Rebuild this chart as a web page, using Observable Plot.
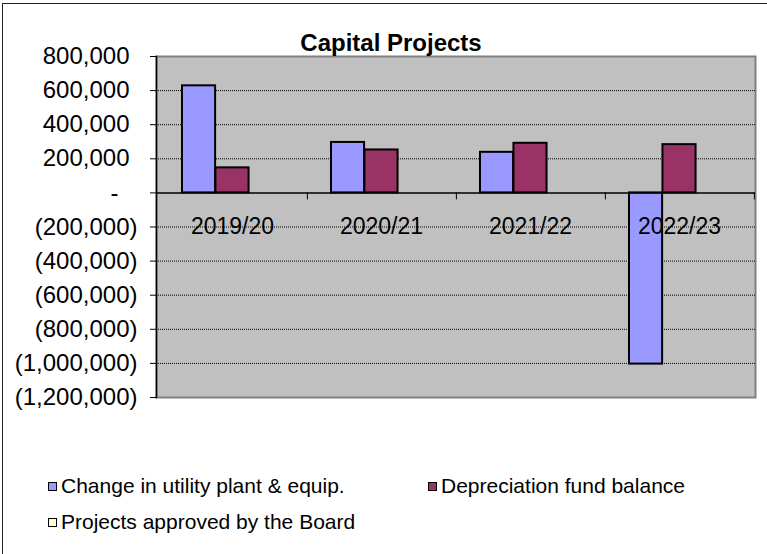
<!DOCTYPE html>
<html><head><meta charset="utf-8">
<script src="https://cdn.jsdelivr.net/npm/d3@7"></script>
<script src="https://cdn.jsdelivr.net/npm/@observablehq/plot@0.6"></script>
<style>
body{margin:0;background:#fff;font-family:"Liberation Sans",Arial,sans-serif;}
#wrap{position:relative;width:767px;height:554px;overflow:hidden;}
#border{position:absolute;left:2px;top:3px;width:800px;height:600px;border-left:1.5px solid #222;border-top:1.5px solid #222;pointer-events:none;}
#title{position:absolute;left:0;width:782px;top:29px;text-align:center;font-weight:bold;font-size:24px;line-height:28px;color:#000;}
.leg{position:absolute;font-size:21px;line-height:24px;display:flex;align-items:center;white-space:nowrap;color:#000;}
.sw{display:inline-block;width:7px;height:7px;border:1.5px solid #000;margin-right:4px;flex:none;}
#chart{position:absolute;left:0;top:0;}
</style></head><body>
<div id="wrap"><div id="chart"></div><div id="border"></div><div id="title"></div><div id="legend"></div></div>
<script>
const titleText = "Capital Projects";
const categories = ["2019/20", "2020/21", "2021/22", "2022/23"];
const seriesNames = ["Change in utility plant & equip.", "Depreciation fund balance", "Projects approved by the Board"];
const seriesColors = ["#9999FF", "#993366", "#FFFFCC"];
const changeInPlant = [628000, 296000, 238000, -1004000];
const depreciationFund = [147000, 252000, 291000, 283000];
const projectsApproved = [null, null, null, null];
const yTicks = [800000, 600000, 400000, 200000, 0, -200000, -400000, -600000, -800000, -1000000, -1200000];

const seriesValues = [changeInPlant, depreciationFund, projectsApproved];
const rows = [];
seriesNames.forEach((s, si) => categories.forEach((c, ci) => rows.push({series: s, cat: c, value: seriesValues[si][ci]})));

const W = 767, H = 554, mL = 156, mR = 12, mT = 56, mB = 157;
const pIn = 0.33, pOut = 0.165;
const step = (W - mL - mR) / (categories.length - pIn + 2 * pOut);
const bw = step * (1 - pIn);
const n = seriesNames.length;
const sw = bw / n;
const num = d3.format(",");
const fmt = v => v === 0 ? "-" : v < 0 ? "(" + num(-v) + ")" : num(v);
const axisFont = 24;

const barMarks = seriesNames.map((s, i) => Plot.barY(
  rows.filter(d => d.series === s && d.value != null),
  {x: "cat", y: "value", fill: seriesColors[i], stroke: "#000", strokeWidth: 2,
   insetLeft: i * sw, insetRight: (n - 1 - i) * sw}
));

const axisOpts = {tickSize: 6, tickFormat: fmt, fontSize: axisFont, fill: "#000", stroke: "#000", label: null};

const chart = Plot.plot({
  width: W, height: H,
  marginLeft: mL, marginRight: mR, marginTop: mT, marginBottom: mB,
  style: {fontFamily: "'Liberation Sans', Arial, sans-serif", background: "transparent", color: "#000"},
  x: {type: "band", domain: categories, paddingInner: pIn, paddingOuter: pOut, axis: null},
  y: {domain: [-1200000, 800000], axis: null, label: null},
  marks: [
    Plot.frame({fill: "#C0C0C0", stroke: "#808080", strokeWidth: 2}),
    Plot.ruleY(yTicks.filter(v => v !== 0 && v !== yTicks[0] && v !== yTicks[yTicks.length - 1]),
      {stroke: "#000", strokeWidth: 1, strokeDasharray: "1,1"}),
    ...barMarks,
    Plot.ruleY([0], {stroke: "#000", strokeWidth: 1.5}),
    Plot.ruleX(categories, {x: d => d, y1: () => 0, y2: () => 0, insetBottom: -7, dx: step / 2, stroke: "#000", strokeWidth: 1}),
    Plot.frame({anchor: "left", stroke: "#000", strokeWidth: 1.5}),
    Plot.axisY(yTicks.filter(v => v < 0), {...axisOpts, tickPadding: 13}),
    Plot.axisY(yTicks.filter(v => v > 0), {...axisOpts, tickPadding: 21}),
    Plot.axisY(yTicks.filter(v => v === 0), {...axisOpts, tickPadding: 32}),
    Plot.text(categories, {x: d => d, y: () => 0, dy: 34, text: d => d, fontSize: 23, fill: "#000", lineAnchor: "middle"})
  ]
});
document.getElementById("chart").appendChild(chart);
document.getElementById("title").textContent = titleText;

const legendPos = [[48, 474], [428, 474], [48, 510]];
const leg = document.getElementById("legend");
seriesNames.forEach((s, i) => {
  const item = document.createElement("div");
  item.className = "leg";
  item.style.left = legendPos[i][0] + "px";
  item.style.top = legendPos[i][1] + "px";
  const sq = document.createElement("span");
  sq.className = "sw";
  sq.style.background = seriesColors[i];
  const t = document.createElement("span");
  t.textContent = s;
  item.appendChild(sq); item.appendChild(t);
  leg.appendChild(item);
});
</script>
</body></html>
